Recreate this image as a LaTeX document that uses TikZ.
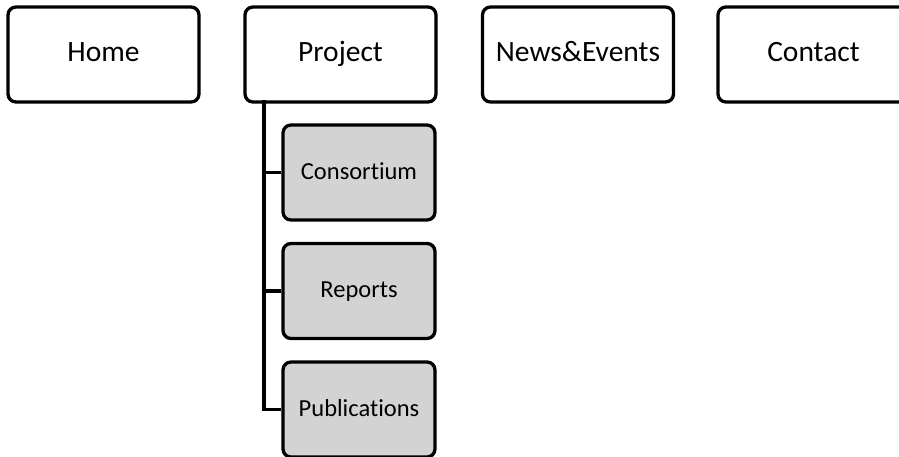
\documentclass[tikz,border=0pt]{standalone}
\usepackage{fontspec}
\setmainfont[Ligatures={NoCommon}]{Carlito}
\definecolor{subgray}{RGB}{211,211,211}
\begin{document}
\begin{tikzpicture}[x=1pt,y=1pt,
  topbox/.style={draw=black, line width=3.3pt, rounded corners=8pt, fill=white,
    minimum width=191pt, minimum height=95pt, inner sep=0pt,
    text height=20pt, text depth=5pt,
    font=\fontsize{29.5}{32}\selectfont},
  subbox/.style={draw=black, line width=3.3pt, rounded corners=8pt, fill=subgray,
    minimum width=152pt, minimum height=95pt, inner sep=0pt,
    text height=16pt, text depth=3pt,
    font=\fontsize{24.5}{27}\selectfont},
  link/.style={draw=black, line width=3.3pt}]
\useasboundingbox (0,0) rectangle (899,-457);
\node[topbox] (home) at (103.5,-54.5) {Home};
\node[topbox] (proj) at (340.5,-54.5) {Project};
\node[topbox] (news) at (578,-54.5) {News\&Events};
\node[topbox] (cont) at (813.5,-54.5) {Contact};
\node[subbox] (cons) at (359,-172.5) {Consortium};
\node[subbox] (rep) at (359,-291) {Reports};
\node[subbox] (pub) at (359,-409.5) {Publications};
\coordinate (trunk) at (264,-100);
\draw[link] (trunk) |- (pub.west);
\draw[link] (trunk |- cons.west) -- (cons.west);
\draw[link] (trunk |- rep.west) -- (rep.west);
\end{tikzpicture}
\end{document}
